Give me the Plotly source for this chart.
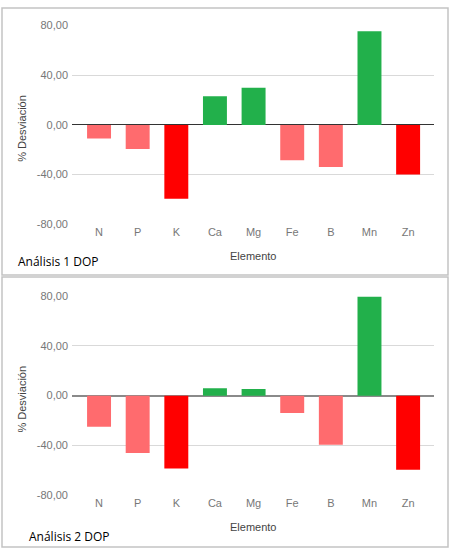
import plotly.graph_objects as go

elementos = ["N", "P", "K", "Ca", "Mg", "Fe", "B", "Mn", "Zn"]
desv_1 = [-11, -19.5, -59.5, 23, 30, -28.5, -34, 75.5, -40]
desv_2 = [-25, -46, -58.5, 6, 5.3, -14, -39.5, 79.5, -59.5]
nivel_1 = ["bajo", "bajo", "muy_bajo", "alto", "alto", "bajo", "bajo", "alto", "muy_bajo"]
nivel_2 = ["bajo", "bajo", "muy_bajo", "alto", "alto", "bajo", "bajo", "alto", "muy_bajo"]
titulos = ["Análisis 1 DOP", "Análisis 2 DOP"]
y_ticks = [-80, -40, 0, 40, 80]
y_ticktext = ["-80,00", "-40,00", "0,00", "40,00", "80,00"]

color_nivel = {"bajo": "#ff6b6e", "muy_bajo": "#ff0000", "alto": "#22b04b"}

W, H = 450, 555

def fy(px):
    return 1 - px / H

def fx(px):
    return px / W

fig = go.Figure()

panels = [
    dict(vals=desv_1, niv=nivel_1, xa="x", ya="y", top=20, bot=223,
         box=(2, 2, 448, 275), title_xy=(16, 261), xt_y=256),
    dict(vals=desv_2, niv=nivel_2, xa="x2", ya="y2", top=296.5, bot=500,
         box=(2, 277, 448, 553), title_xy=(27, 542), xt_y=533),
]

for i, p in enumerate(panels):
    fig.add_trace(go.Bar(
        x=elementos, y=p["vals"],
        marker=dict(color=[color_nivel[n] for n in p["niv"]], line=dict(width=0)),
        xaxis=p["xa"], yaxis=p["ya"], showlegend=False, hoverinfo="x+y",
    ))
    x0, y0, x1, y1 = p["box"]
    fig.add_shape(type="rect", xref="paper", yref="paper",
                  x0=fx(x0), x1=fx(x1), y0=fy(y1), y1=fy(y0),
                  line=dict(color="#c3c3c3", width=1.5), layer="below")
    tx, ty = p["title_xy"]
    fig.add_annotation(text=titulos[i], xref="paper", yref="paper",
                       x=fx(tx), y=fy(ty), xanchor="left", yanchor="middle",
                       showarrow=False,
                       font=dict(family="Open Sans", size=12, color="#000000"))
    fig.add_annotation(text="Elemento", xref="paper", yref="paper",
                       x=fx(253), y=fy(p["xt_y"]), xanchor="center", yanchor="middle",
                       showarrow=False,
                       font=dict(family="Liberation Sans", size=11, color="#444444"))
    fig.add_annotation(text="% Desviación", xref="paper", yref="paper",
                       x=fx(22), y=fy((p["top"] + p["bot"]) / 2 + 4), textangle=-90,
                       xanchor="center", yanchor="middle", showarrow=False,
                       font=dict(family="Liberation Sans", size=11, color="#444444"))

axis_common_x = dict(
    type="category", range=[-0.7, 8.67], showgrid=False, zeroline=False,
    showline=False, ticks="", tickfont=dict(family="Liberation Sans", size=11, color="#777777"),
    fixedrange=True,
)
axis_common_y = dict(
    range=[-80, 80], tickvals=y_ticks, ticktext=y_ticktext,
    showgrid=True, gridcolor="#d9d9d9", gridwidth=1,
    zeroline=True, zerolinewidth=1,
    showline=False, ticks="", ticklabelstandoff=3,
    tickfont=dict(family="Liberation Sans", size=11, color="#777777"),
    fixedrange=True,
)

fig.update_layout(
    width=W, height=H,
    margin=dict(l=0, r=0, t=0, b=0),
    paper_bgcolor="#ffffff", plot_bgcolor="rgba(0,0,0,0)",
    bargap=0.38,
    xaxis=dict(axis_common_x, domain=[fx(72), fx(434)], anchor="y"),
    yaxis=dict(axis_common_y, domain=[fy(panels[0]["bot"]), fy(panels[0]["top"])],
               anchor="x", zerolinecolor="#333333"),
    xaxis2=dict(axis_common_x, domain=[fx(72), fx(434)], anchor="y2"),
    yaxis2=dict(axis_common_y, domain=[fy(panels[1]["bot"]), fy(panels[1]["top"])],
                anchor="x2", zerolinecolor="#8a8a8a", zerolinewidth=1.5),
)

fig.write_html(
    "out.html",
    config={"displayModeBar": False},
    post_script="document.body.style.margin='0';document.body.style.overflow='hidden';",
)
